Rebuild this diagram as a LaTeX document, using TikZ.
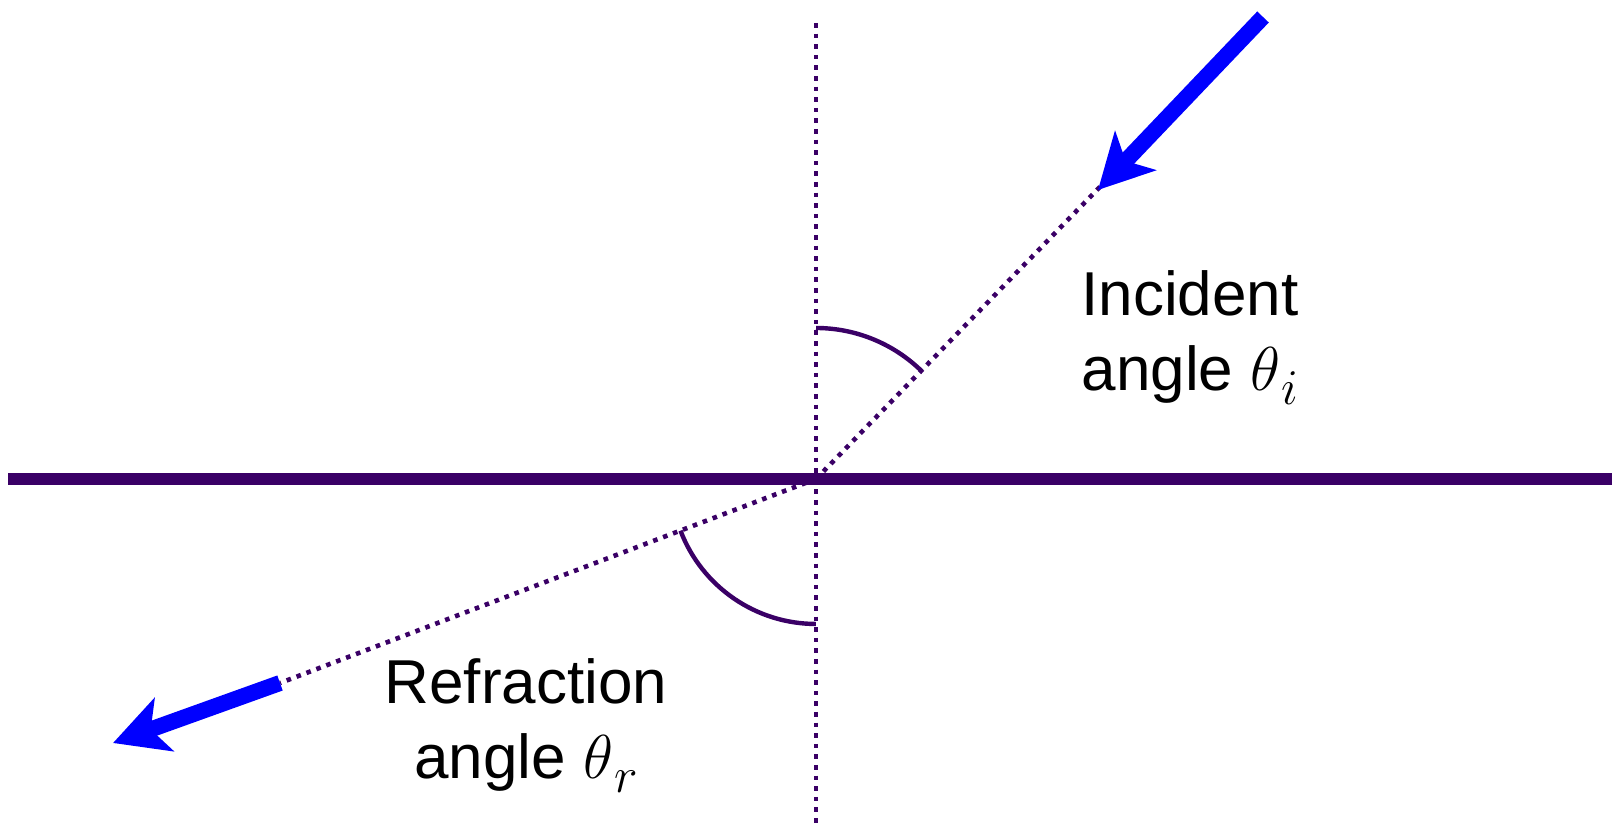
\documentclass[tikz,border=0pt]{standalone}
\usepackage{fix-cm}
\usepackage{fontspec}
\setmainfont{Liberation Sans}
\usetikzlibrary{arrows.meta}
\definecolor{ln}{HTML}{3A0066}
\definecolor{ray}{HTML}{0000FF}
\newcommand{\lowsub}[1]{\lower14pt\hbox{\fontsize{50}{50}\selectfont$\kern1pt #1$}}
\tikzset{
  dotline/.style={draw=ln, line width=4.6pt, dash pattern=on 4.6pt off 6pt},
  surface/.style={draw=ln, line width=12pt},
  anglearc/.style={draw=ln, line width=4.4pt},
  rayarrow/.style={draw=ray, line width=16pt, -{Stealth[length=54pt,width=56pt,inset=14pt]}},
  lbl/.style={align=center, font=\fontsize{62}{75}\selectfont, inner sep=0pt}
}
\begin{document}
\begin{tikzpicture}[x=1pt,y=1pt]
\useasboundingbox (0,0) rectangle (1612,825);
\coordinate (O) at (816,346);
\coordinate (vt) at (816,802);
\coordinate (vb) at (816,0);
\coordinate (hl) at (8,346);
\coordinate (hr) at (1612,346);
\coordinate (it) at (1266,809);
\coordinate (itail) at (1263,808);
\coordinate (itip) at (1098,635);
\coordinate (rt) at (280,142);
\coordinate (rtip) at (113,82);
% normal and surface
\draw[dotline] (vt) -- (vb);
\draw[surface] (hl) -- (hr);
% rays
\draw[dotline] (O) -- (it);
\draw[dotline] (O) -- (rt);
\draw[rayarrow] (itail) -- (itip);
\draw[rayarrow] (rt) -- (rtip);
% angle arcs
\draw[anglearc] (816,497) arc[start angle=90, end angle=45.5, radius=151];
\draw[anglearc] (680.5,294.3) arc[start angle=200.9, end angle=270, radius=145];
% labels
\node[lbl, anchor=north] (inc) at (1190,555) {Incident\\angle $\theta$\lowsub{i}};
\node[lbl, anchor=north] (ref) at (526,167) {Refraction\\angle $\theta$\lowsub{r}};
\end{tikzpicture}
\end{document}
